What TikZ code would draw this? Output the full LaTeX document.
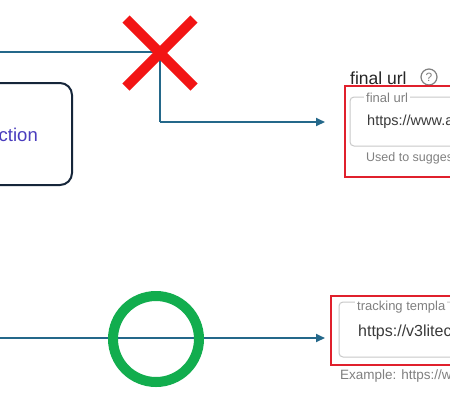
\documentclass[tikz,border=0pt]{standalone}
\usepackage{fontspec}
\setmainfont{Liberation Sans}
\usetikzlibrary{arrows.meta,calc}
\definecolor{flow}{HTML}{24688A}
\definecolor{xred}{HTML}{F21414}
\definecolor{okgreen}{HTML}{12AD4E}
\definecolor{navy}{HTML}{16263A}
\definecolor{boxred}{HTML}{E0202C}
\definecolor{fieldgray}{HTML}{C9C9C9}
\definecolor{txtdark}{HTML}{3A3A3A}
\definecolor{txtgray}{HTML}{808080}
\definecolor{purp}{HTML}{4A3DBE}
\tikzset{
  flowline/.style={draw=flow, line width=2pt},
  flowarrow/.style={flowline, -{Triangle[length=9pt,width=8pt]}},
  redframe/.style={draw=boxred, line width=2pt},
  fieldbox/.style={draw=fieldgray, line width=1pt, rounded corners=4pt},
  legend/.style={fill=white, inner sep=2pt, anchor=west, text=txtgray, font=\fontsize{13}{15}\selectfont},
  value/.style={anchor=west, inner sep=0pt, text=txtdark, font=\fontsize{14.5}{17}\selectfont},
  hint/.style={anchor=west, inner sep=0pt, text=txtgray, font=\fontsize{12.5}{15}\selectfont},
}
\begin{document}
\begin{tikzpicture}[x=1pt,y=-1pt]
\useasboundingbox (0,0) rectangle (450,400);
\fill[white] (0,0) rectangle (450,400);

% rounded box on the left
\draw[navy, line width=2pt, rounded corners=12pt] (-30,83) rectangle (72,185);
\node[anchor=base east, inner sep=0pt, text=purp, font=\fontsize{18.5}{22}\selectfont] (act) at (38,141) {ction};

% top flow
\coordinate (tl) at (0,52);
\coordinate (tc) at (160,52);
\coordinate (tb) at (160,122);
\coordinate (ta) at (325,122);
\draw[flowline] (tl) -- (tc) -- (tb);
\draw[flowarrow] (tb) -- (ta);

% red X
\node[inner sep=0pt, minimum size=1pt] (xc) at (160,53) {};
\draw[xred, line width=10pt] ($(xc)+(-34,-34)$) -- ($(xc)+(34,34)$);
\draw[xred, line width=10pt] ($(xc)+(34,-34)$) -- ($(xc)+(-34,34)$);

% final url panel
\node[anchor=west, inner sep=0pt, text=black!85, font=\fontsize{17.5}{20}\selectfont] (fulabel) at (350,78) {final url};
\node[circle, draw=txtgray, line width=1.2pt, minimum size=16pt, inner sep=0pt, text=txtgray, font=\fontsize{12}{14}\selectfont] (help) at (429,77) {?};
\draw[redframe] (345,86) rectangle (470,177);
\draw[fieldbox] (350,97) rectangle (480,146);
\node[legend] (fulegend) at (364,98) {final url};
\node[value] (fuvalue) at (367,122) {https://www.a};
\node[hint] (fuhint) at (366,158) {Used to sugges};

% bottom flow
\coordinate (bl) at (0,338);
\coordinate (ba) at (325,338);
\draw[flowarrow] (bl) -- (ba);
\node[circle, draw=okgreen, line width=10pt, minimum size=86pt, inner sep=0pt] (ok) at (156,339) {};

% tracking template panel
\draw[redframe] (331,296) rectangle (470,365);
\draw[fieldbox] (339,302) rectangle (480,357);
\node[legend] (ttlegend) at (355,307) {tracking templa};
\node[value, font=\fontsize{16}{19}\selectfont] (ttvalue) at (358,332) {https://v3litec};
\node[hint, font=\fontsize{13.5}{16}\selectfont] (tthint) at (340,376) {Example: https://w};
\end{tikzpicture}
\end{document}
